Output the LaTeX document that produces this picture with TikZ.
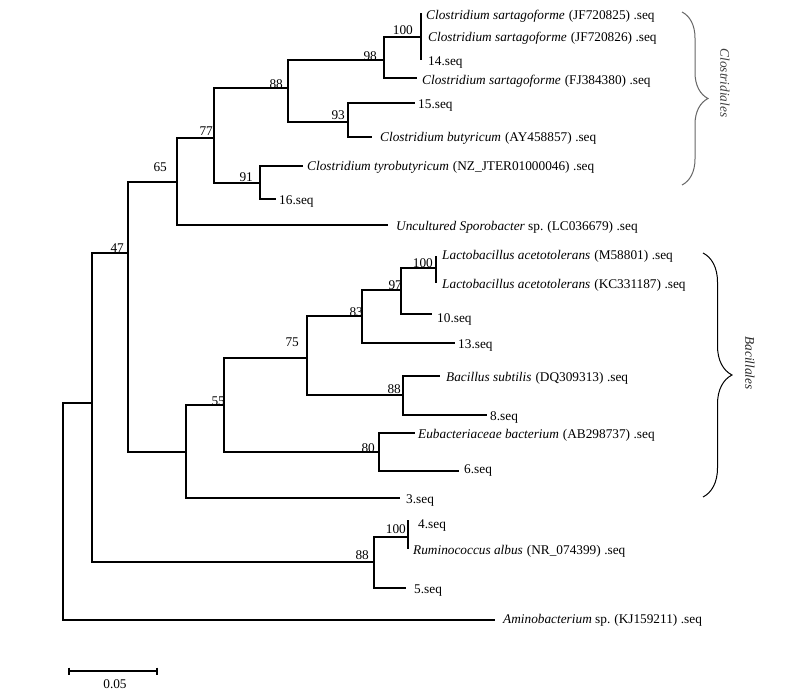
\documentclass[tikz,border=0pt]{standalone}
\usepackage{fontspec}
\setmainfont{Liberation Serif}
\usetikzlibrary{calc,decorations.pathreplacing}
\newcommand{\acc}[1]{\hspace{4pt}(#1)\hspace{3.5pt}.seq}
\begin{document}
\begin{tikzpicture}[x=1pt,y=-1pt,
  branch/.style={line width=1.1pt, black, line join=miter},
  leaflab/.style={anchor=base west, inner sep=0pt, font=\fontsize{13.3}{15}\selectfont},
  bslab/.style={anchor=base east, inner sep=0pt, font=\fontsize{13.3}{15}\selectfont},
  cladebrace/.style={decorate, decoration={brace, amplitude=#1}, line width=1pt},
  cladelab/.style={rotate=-90, inner sep=0pt, font=\fontsize{13.3}{15}\selectfont\itshape},
  scalebar/.style={line width=1.1pt, black}]
\useasboundingbox (0,0) rectangle (798,695);
\fill[white] (0,0) rectangle (798,695);

% internal nodes
\coordinate (R) at (63,511);
\coordinate (N92) at (92,403);
\coordinate (N47) at (128,253);
\coordinate (N65) at (177,182);
\coordinate (N77) at (214,138);
\coordinate (N88a) at (288,88);
\coordinate (N98) at (384,60);
\coordinate (N100a) at (421,37);
\coordinate (N93) at (348,122);
\coordinate (N91) at (260,183);
\coordinate (NX) at (186,452);
\coordinate (N55) at (224,405);
\coordinate (N75) at (307,358);
\coordinate (N83) at (362,316);
\coordinate (N97) at (401,290);
\coordinate (N100b) at (436,268);
\coordinate (N88b) at (403,395);
\coordinate (N80) at (379,452);
\coordinate (N88c) at (374,562);
\coordinate (N100c) at (408,537);

% leaf tips
\coordinate (L1) at (421,13);
\coordinate (L2) at (421,37);
\coordinate (L3) at (421,60);
\coordinate (L4) at (417,78);
\coordinate (L5) at (415,103);
\coordinate (L6) at (372,137);
\coordinate (L7) at (303,166);
\coordinate (L8) at (276,199);
\coordinate (L9) at (388,225);
\coordinate (L10) at (436,256);
\coordinate (L11) at (436,283);
\coordinate (L12) at (432,314);
\coordinate (L13) at (455,343);
\coordinate (L14) at (440,376);
\coordinate (L15) at (487,415);
\coordinate (L16) at (415,433);
\coordinate (L17) at (459,471);
\coordinate (L18) at (400,498);
\coordinate (L19) at (408,520);
\coordinate (L20) at (408,549);
\coordinate (L21) at (406,588);
\coordinate (L22) at (495,620);

% branches
\draw[branch] (R) |- (N92);
\draw[branch] (R) |- (L22);
\draw[branch] (N92) |- (N47);
\draw[branch] (N92) |- (N88c);
\draw[branch] (N47) |- (N65);
\draw[branch] (N47) |- (NX);
\draw[branch] (N65) |- (N77);
\draw[branch] (N65) |- (L9);
\draw[branch] (N77) |- (N88a);
\draw[branch] (N77) |- (N91);
\draw[branch] (N88a) |- (N98);
\draw[branch] (N88a) |- (N93);
\draw[branch] (N98) |- (N100a);
\draw[branch] (N98) |- (L4);
\draw[branch] (N100a) -- (L1);
\draw[branch] (N100a) -- (L3);
\draw[branch] (N93) |- (L5);
\draw[branch] (N93) |- (L6);
\draw[branch] (N91) |- (L7);
\draw[branch] (N91) |- (L8);
\draw[branch] (NX) |- (N55);
\draw[branch] (NX) |- (L18);
\draw[branch] (N55) |- (N75);
\draw[branch] (N55) |- (N80);
\draw[branch] (N75) |- (N83);
\draw[branch] (N75) |- (N88b);
\draw[branch] (N83) |- (N97);
\draw[branch] (N83) |- (L13);
\draw[branch] (N97) |- (N100b);
\draw[branch] (N97) |- (L12);
\draw[branch] (N100b) -- (L10);
\draw[branch] (N100b) -- (L11);
\draw[branch] (N88b) |- (L14);
\draw[branch] (N88b) |- (L15);
\draw[branch] (N80) |- (L16);
\draw[branch] (N80) |- (L17);
\draw[branch] (N88c) |- (N100c);
\draw[branch] (N88c) |- (L21);
\draw[branch] (N100c) -- (L19);
\draw[branch] (N100c) -- (L20);

% leaf labels
\node[leaflab] (T1) at ($(L1)+(5,7)$) {\textit{Clostridium sartagoforme}\acc{JF720825}};
\node[leaflab] (T2) at ($(L2)+(7,5)$) {\textit{Clostridium sartagoforme}\acc{JF720826}};
\node[leaflab] (T3) at ($(L3)+(7,6)$) {14.seq};
\node[leaflab] (T4) at ($(L4)+(5,7)$) {\textit{Clostridium sartagoforme}\acc{FJ384380}};
\node[leaflab] (T5) at ($(L5)+(3,6)$) {15.seq};
\node[leaflab] (T6) at ($(L6)+(8,5)$) {\textit{Clostridium butyricum}\acc{AY458857}};
\node[leaflab] (T7) at ($(L7)+(4,5)$) {\textit{Clostridium tyrobutyricum}\acc{NZ\_JTER01000046}};
\node[leaflab] (T8) at ($(L8)+(3,6)$) {16.seq};
\node[leaflab] (T9) at ($(L9)+(8,6)$) {\textit{Uncultured Sporobacter} sp.\acc{LC036679}};
\node[leaflab] (T10) at ($(L10)+(6,4)$) {\textit{Lactobacillus acetotolerans}\acc{M58801}};
\node[leaflab] (T11) at ($(L11)+(6,5)$) {\textit{Lactobacillus acetotolerans}\acc{KC331187}};
\node[leaflab] (T12) at ($(L12)+(5,8)$) {10.seq};
\node[leaflab] (T13) at ($(L13)+(3,5)$) {13.seq};
\node[leaflab] (T14) at ($(L14)+(6,5)$) {\textit{Bacillus subtilis}\acc{DQ309313}};
\node[leaflab] (T15) at ($(L15)+(3,5)$) {8.seq};
\node[leaflab] (T16) at ($(L16)+(3,5)$) {\textit{Eubacteriaceae bacterium}\acc{AB298737}};
\node[leaflab] (T17) at ($(L17)+(5,2)$) {6.seq};
\node[leaflab] (T18) at ($(L18)+(6,5)$) {3.seq};
\node[leaflab] (T19) at ($(L19)+(10,8)$) {4.seq};
\node[leaflab] (T20) at ($(L20)+(5,5)$) {\textit{Ruminococcus albus}\acc{NR\_074399}};
\node[leaflab] (T21) at ($(L21)+(8,5)$) {5.seq};
\node[leaflab] (T22) at ($(L22)+(8,3)$) {\textit{Aminobacterium} sp.\acc{KJ159211}};

% bootstrap values
\node[bslab] (B100a) at ($(N100a)+(-8,-2)$) {100};
\node[bslab] (B98) at ($(N98)+(-7,1)$) {98};
\node[bslab] (B88a) at ($(N88a)+(-5,1)$) {88};
\node[bslab] (B93) at ($(N93)+(-3,-2)$) {93};
\node[bslab] (B77) at ($(N77)+(-1,-2)$) {77};
\node[bslab] (B91) at ($(N91)+(-7,-1)$) {91};
\node[bslab] (B65) at ($(N65)+(-10,-10)$) {65};
\node[bslab] (B47) at ($(N47)+(-4,-1)$) {47};
\node[bslab] (B55) at ($(N55)+(1,0)$) {55};
\node[bslab] (B75) at ($(N75)+(-8,-12)$) {75};
\node[bslab] (B83) at ($(N83)+(1,0)$) {83};
\node[bslab] (B97) at ($(N97)+(1,0)$) {97};
\node[bslab] (B100b) at ($(N100b)+(-3,-1)$) {100};
\node[bslab] (B88b) at ($(N88b)+(-2,-2)$) {88};
\node[bslab] (B80) at ($(N80)+(-4,0)$) {80};
\node[bslab] (B88c) at ($(N88c)+(-5,-3)$) {88};
\node[bslab] (B100c) at ($(N100c)+(-2,-4)$) {100};

% clade braces
\coordinate (CB1) at (682,12);
\coordinate (CB2) at (682,185);
\coordinate (BB1) at (703,253);
\coordinate (BB2) at (703,497);
\draw[cladebrace=26pt, draw=black!60] (CB1) -- (CB2);
\draw[cladebrace=29pt, draw=black] (BB1) -- (BB2);
\node[cladelab, text=black!75] (CL1) at (725,83) {Clostridiales};
\node[cladelab, text=black!85] (CL2) at (750,363) {Bacillales};

% scale bar
\coordinate (S1) at (69,671);
\coordinate (S2) at (157,671);
\draw[scalebar] (S1) -- (S2);
\draw[scalebar] ($(S1)+(0,-3.5)$) -- ($(S1)+(0,3.5)$);
\draw[scalebar] ($(S2)+(0,-3.5)$) -- ($(S2)+(0,3.5)$);
\node[anchor=base, inner sep=0pt, font=\fontsize{13.3}{15}\selectfont] (SL) at (115,688) {0.05};
\end{tikzpicture}
\end{document}
